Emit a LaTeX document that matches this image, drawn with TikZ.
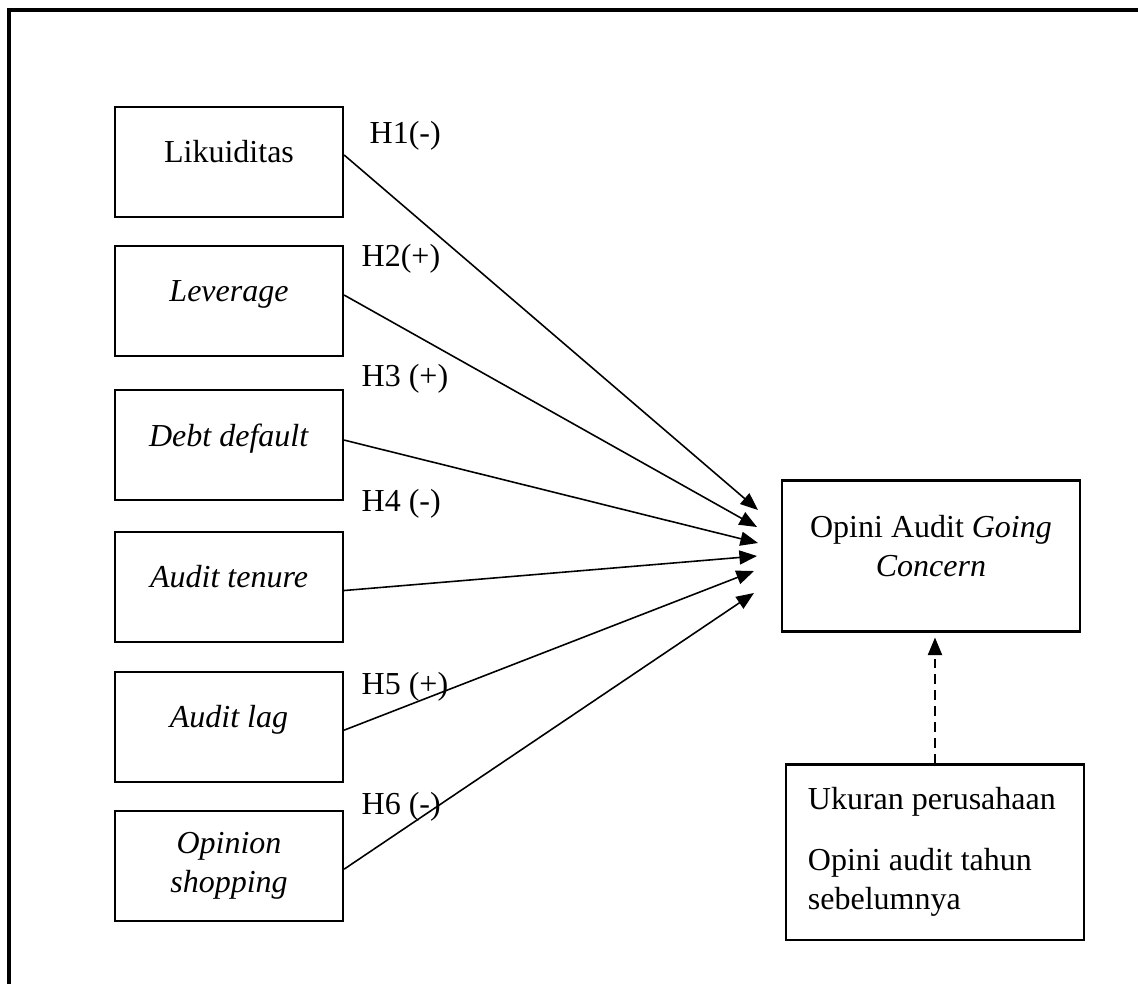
\documentclass[tikz,border=0pt]{standalone}
\usepackage{fontspec}
\setmainfont{Liberation Serif}
\usetikzlibrary{arrows.meta}

\begin{document}
\begin{tikzpicture}[x=0.01cm, y=-0.01cm,
    font=\fontsize{9.1pt}{11.1pt}\selectfont,
    var/.style={draw, line width=0.6pt, minimum width=2.28cm, minimum height=1.10cm, align=center, text depth=0.58em},
    hyp/.style={anchor=base west, inner sep=0pt},
    link/.style={line width=0.45pt, -{Triangle[length=5pt, width=4pt]}}]
    \useasboundingbox (0,0) rectangle (1138,984);
    \draw[line width=1pt] (9,984) |- (1138,10);

    \node[var] (lik) at (229,162) {Likuiditas};
    \node[var] (lev) at (229,301) {\textit{Leverage}};
    \node[var] (debt) at (229,445) {\textit{Debt default}};
    \node[var] (ten) at (229,587) {\textit{Audit tenure}};
    \node[var] (lag) at (229,727) {\textit{Audit lag}};
    \node[var, text depth=] (shop) at (229,866) {\textit{Opinion}\\ \textit{shopping}};

    \node[var, minimum width=2.98cm, minimum height=1.51cm] (goc) at (931,556) {Opini Audit \textit{Going}\\ \textit{Concern}};
    \node[draw, line width=0.6pt, minimum width=2.98cm, minimum height=1.75cm, text width=2.54cm, inner xsep=0.22cm, align=flush left] (kontrol) at (935,852) {Ukuran perusahaan\\[6.3pt] Opini audit tahun\\ sebelumnya};

    \node[hyp] (h1) at (369,143) {H1(-)};
    \node[hyp] (h2) at (361,266) {H2(+)};
    \node[hyp] (h3) at (361,386) {H3 (+)};
    \node[hyp] (h4) at (361,511) {H4 (-)};
    \node[hyp] (h5) at (361,694) {H5 (+)};
    \node[hyp] (h6) at (361,814) {H6 (-)};

    \coordinate (t1) at (758,510);
    \coordinate (t2) at (757,527);
    \coordinate (t3) at (758,543);
    \coordinate (t4) at (757,556);
    \coordinate (t5) at (754,571);
    \coordinate (t6) at (754,593);

    \draw[link] ([yshift=2pt]lik.east) -- (t1);
    \draw[link] ([yshift=1.7pt]lev.east) -- (t2);
    \draw[link] ([yshift=1.4pt]debt.east) -- (t3);
    \draw[link] ([yshift=-1pt]ten.east) -- (t4);
    \draw[link] ([yshift=-0.9pt]lag.east) -- (t5);
    \draw[link] ([yshift=-0.9pt]shop.east) -- (t6);

    \draw[line width=0.6pt, dash pattern=on 2.8pt off 1.7pt, -{Triangle[length=5pt, width=4pt]}, shorten >=1.4pt] (kontrol.north) -- (kontrol.north |- goc.south);
\end{tikzpicture}
\end{document}
